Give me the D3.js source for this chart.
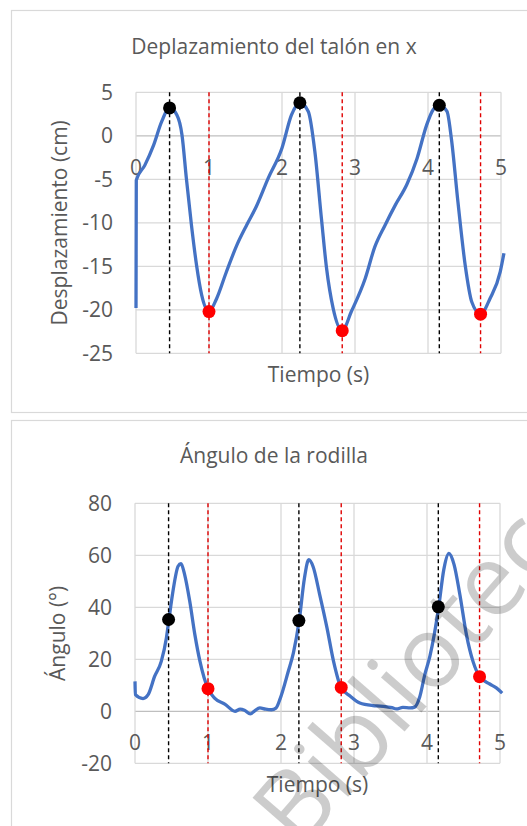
<!DOCTYPE html>
<html>
<head>
<meta charset="utf-8">
<script src="https://cdn.jsdelivr.net/npm/d3@7"></script>
<style>
  body { margin: 0; background: #fff; }
  svg { display: block; font-family: "Open Sans", sans-serif; }
</style>
</head>
<body>
<div id="chart"></div>
<script>
// Desplazamiento del talón (cm) vs tiempo (s)
const tiempoTalon = [0, 0.004, 0.12, 0.24, 0.35, 0.46, 0.56, 0.63, 0.69, 0.76, 0.83, 0.90, 1.0, 1.105, 1.24, 1.38, 1.52, 1.65, 1.81, 2.0, 2.13, 2.245, 2.36, 2.45, 2.54, 2.61, 2.70, 2.825, 2.95, 3.14, 3.27, 3.41, 3.55, 3.71, 3.85, 3.98, 4.07, 4.155, 4.26, 4.32, 4.41, 4.51, 4.60, 4.72, 4.85, 4.99, 5.04];
const desplazamiento = [-19.8, -5.1, -3.4, -1.1, 1.6, 3.2, 2.4, 0.1, -4.9, -10.3, -14.9, -18.3, -20.2, -18.7, -15.6, -12.6, -10.2, -8.1, -4.9, -1.4, 2.4, 3.8, 2.8, -1.8, -9.5, -15.2, -19.8, -22.4, -20.2, -16.4, -12.8, -10.3, -8.0, -5.6, -2.6, 1.2, 3.0, 3.5, 2.8, -0.3, -7.6, -14.9, -19.1, -20.5, -18.7, -15.6, -13.5];

// Ángulo de la rodilla (°) vs tiempo (s)
const tiempoRodilla = [0, 0.005, 0.11, 0.18, 0.27, 0.36, 0.43, 0.465, 0.52, 0.59, 0.63, 0.68, 0.75, 0.82, 0.89, 1.0, 1.09, 1.23, 1.37, 1.44, 1.50, 1.58, 1.64, 1.71, 1.79, 1.87, 1.93, 1.99, 2.10, 2.17, 2.25, 2.32, 2.38, 2.44, 2.53, 2.63, 2.72, 2.82, 2.95, 3.08, 3.26, 3.36, 3.45, 3.52, 3.58, 3.67, 3.77, 3.83, 3.90, 3.97, 4.04, 4.16, 4.23, 4.30, 4.37, 4.45, 4.54, 4.63, 4.72, 4.86, 4.95, 5.03];
const angulo = [11.5, 6.4, 4.9, 6.4, 13.5, 19.2, 28.2, 35.3, 46.2, 55.8, 56.8, 52.6, 42.3, 29.5, 19.2, 8.7, 5.1, 2.8, 0.0, 0.8, 0.4, -1.0, 0.2, 1.3, 0.8, 0.6, 1.2, 5.0, 15.4, 22.5, 35.0, 51.0, 58.3, 55.6, 44.9, 32.1, 19.2, 9.3, 5.8, 3.2, 2.2, 2.0, 1.7, 1.4, 0.9, 1.5, 1.3, 1.6, 5.5, 14.1, 21.2, 40.0, 54.5, 60.7, 56.5, 44.9, 29.5, 19.2, 13.4, 10.5, 9.0, 7.0];

// event markers (black = max, red = min)
const tiemposNegros = [0.46, 2.245, 4.155];
const tiemposRojos = [1.0, 2.825, 4.72];
const talonNegros = [3.2, 3.8, 3.5];
const talonRojos = [-20.2, -22.4, -20.5];
const rodillaNegros = [35.3, 34.9, 40.2];
const rodillaRojos = [8.7, 9.2, 13.3];

const xTicks = [0, 1, 2, 3, 4, 5];
const talonTicks = [5, 0, -5, -10, -15, -20, -25];
const rodillaTicks = [80, 60, 40, 20, 0, -20];

const W = 527, H = 826;
const svg = d3.select("#chart").append("svg")
  .attr("width", W)
  .attr("height", H);

const textColor = "#595959";
const gridColor = "#d9d9d9";
const fontSize = "21px";

function drawChart(cfg) {
  const g = svg.append("g");

  // chart frame
  g.append("rect")
    .attr("x", cfg.box[0]).attr("y", cfg.box[1])
    .attr("width", cfg.box[2]).attr("height", cfg.box[3])
    .attr("fill", "#fff")
    .attr("stroke", gridColor)
    .attr("stroke-width", 1.2);

  const x = d3.scaleLinear().domain([0, 5]).range([cfg.left, cfg.right]);
  const y = d3.scaleLinear().domain(d3.extent(cfg.yTicks)).range([cfg.bottom, cfg.top]);

  // gridlines
  g.append("g")
    .selectAll("line")
    .data(cfg.yTicks)
    .join("line")
    .attr("x1", cfg.left).attr("x2", cfg.right)
    .attr("y1", d => y(d)).attr("y2", d => y(d))
    .attr("stroke", d => d === 0 ? "#bfbfbf" : gridColor)
    .attr("stroke-width", 1.3);

  g.append("g")
    .selectAll("line")
    .data(xTicks)
    .join("line")
    .attr("x1", d => x(d)).attr("x2", d => x(d))
    .attr("y1", cfg.top).attr("y2", cfg.bottom)
    .attr("stroke", gridColor)
    .attr("stroke-width", 1.3);

  // y tick labels
  g.append("g")
    .selectAll("text")
    .data(cfg.yTicks)
    .join("text")
    .attr("x", cfg.left - 23)
    .attr("y", d => y(d))
    .attr("dy", "0.35em")
    .attr("text-anchor", "end")
    .attr("fill", textColor)
    .style("font-size", fontSize)
    .text(d => d);

  // x tick labels sit under the zero line
  g.append("g")
    .selectAll("text")
    .data(xTicks)
    .join("text")
    .attr("x", d => x(d))
    .attr("y", y(0) + 39)
    .attr("text-anchor", "middle")
    .attr("fill", textColor)
    .style("font-size", fontSize)
    .text(d => d);

  // data line
  const pts = cfg.tiempo.map((t, i) => [t, cfg.valores[i]]);
  const line = d3.line()
    .x(d => x(d[0]))
    .y(d => y(d[1]))
    .curve(d3.curveMonotoneX);

  g.append("path")
    .datum(pts)
    .attr("fill", "none")
    .attr("stroke", "#4472c4")
    .attr("stroke-width", 3.3)
    .attr("stroke-linejoin", "round")
    .attr("d", line);

  // dashed event lines
  g.append("g")
    .selectAll("line")
    .data(tiemposNegros)
    .join("line")
    .attr("x1", d => x(d)).attr("x2", d => x(d))
    .attr("y1", cfg.top).attr("y2", cfg.bottom)
    .attr("stroke", "#000")
    .attr("stroke-width", 1.4)
    .attr("stroke-dasharray", "4,3");

  g.append("g")
    .selectAll("line")
    .data(tiemposRojos)
    .join("line")
    .attr("x1", d => x(d)).attr("x2", d => x(d))
    .attr("y1", cfg.top).attr("y2", cfg.bottom)
    .attr("stroke", "#e00000")
    .attr("stroke-width", 1.4)
    .attr("stroke-dasharray", "4,3");

  // markers
  g.append("g")
    .selectAll("circle")
    .data(tiemposNegros)
    .join("circle")
    .attr("cx", d => x(d))
    .attr("cy", (d, i) => y(cfg.negros[i]))
    .attr("r", 6.5)
    .attr("fill", "#000");

  g.append("g")
    .selectAll("circle")
    .data(tiemposRojos)
    .join("circle")
    .attr("cx", d => x(d))
    .attr("cy", (d, i) => y(cfg.rojos[i]))
    .attr("r", 6.5)
    .attr("fill", "#ff0000");

  // titles
  g.append("text")
    .attr("x", 274)
    .attr("y", cfg.titleY)
    .attr("text-anchor", "middle")
    .attr("fill", textColor)
    .style("font-size", fontSize)
    .text(cfg.title);

  g.append("text")
    .attr("transform", `translate(${cfg.yTitleX},${(cfg.top + cfg.bottom) / 2}) rotate(-90)`)
    .attr("text-anchor", "middle")
    .attr("dy", "0.35em")
    .attr("fill", textColor)
    .style("font-size", fontSize)
    .text(cfg.yTitle);

  g.append("text")
    .attr("x", (cfg.left + cfg.right) / 2)
    .attr("y", cfg.bottom + 29)
    .attr("text-anchor", "middle")
    .attr("fill", textColor)
    .style("font-size", fontSize)
    .text("Tiempo (s)");
}

drawChart({
  box: [11.5, 10.5, 530, 402],
  left: 136, right: 501, top: 92.3, bottom: 353.3,
  yTicks: talonTicks,
  tiempo: tiempoTalon, valores: desplazamiento,
  negros: talonNegros, rojos: talonRojos,
  title: "Deplazamiento del talón en x",
  titleY: 54,
  yTitle: "Desplazamiento (cm)",
  yTitleX: 60
});

drawChart({
  box: [11.5, 420.5, 530, 420],
  left: 135, right: 500, top: 503.3, bottom: 763.3,
  yTicks: rodillaTicks,
  tiempo: tiempoRodilla, valores: angulo,
  negros: rodillaNegros, rojos: rodillaRojos,
  title: "Ángulo de la rodilla",
  titleY: 463,
  yTitle: "Ángulo (°)",
  yTitleX: 58
});

// watermark over the lower chart
svg.append("text")
  .attr("transform", "translate(300,852) rotate(-49)")
  .attr("fill", "#000")
  .attr("fill-opacity", 0.2)
  .style("font-size", "100px")
  .text("Biblioteca");
</script>
</body>
</html>
